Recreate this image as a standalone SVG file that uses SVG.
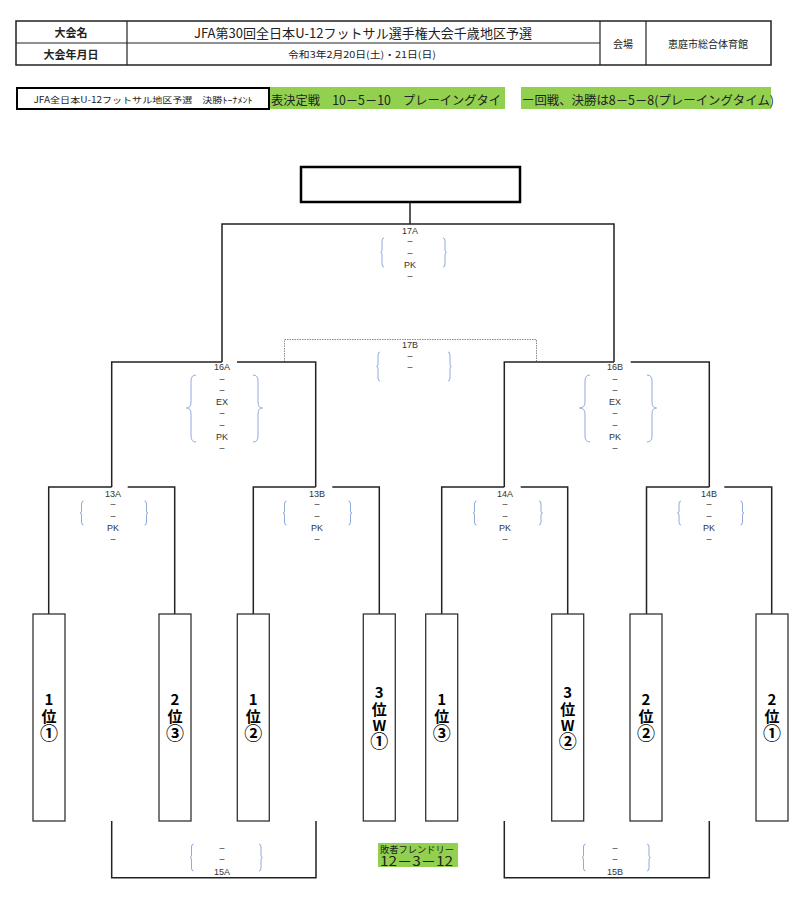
<svg xmlns="http://www.w3.org/2000/svg" width="800" height="918" viewBox="0 0 800 918">
<style>
text{font-family:"Liberation Sans","Noto Sans CJK JP",sans-serif;fill:#222;}
.jp{font-family:"Noto Sans CJK JP","Liberation Sans",sans-serif;}
.hd{font-size:11px;text-anchor:middle;dominant-baseline:central;}
.lb{font-size:9px;text-anchor:middle;fill:#333;}
.tm{font-size:15px;font-weight:bold;text-anchor:middle;fill:#000;}
.cc{font-size:18px;}
.ln{fill:none;stroke:#222;stroke-width:1.5;}
.bx{fill:#fff;stroke:#333;stroke-width:1.3;}
.br{fill:none;stroke:#8eaadb;stroke-width:1;}
.gr{fill:#92d050;}
.dot{fill:none;stroke:#888;stroke-width:1;stroke-dasharray:1.5,1;}
</style>
<defs>
<clipPath id="c2"><rect x="521" y="87" width="253" height="23"/></clipPath>
</defs>
<rect width="800" height="918" fill="#fff"/>

<g id="header">
<rect x="16" y="21" width="755" height="44" fill="none" stroke="#222" stroke-width="1.5"/>
<line x1="16" y1="43" x2="600" y2="43" stroke="#222" stroke-width="1.2"/>
<line x1="127" y1="21" x2="127" y2="65" stroke="#222" stroke-width="1.2"/>
<line x1="600" y1="21" x2="600" y2="65" stroke="#222" stroke-width="1.2"/>
<line x1="646" y1="21" x2="646" y2="65" stroke="#222" stroke-width="1.2"/>
<text class="hd jp" x="71" y="32" font-weight="bold">大会名</text>
<text class="hd jp" x="71" y="54" font-weight="bold">大会年月日</text>
<text class="hd jp" x="363" y="32" style="font-size:13px" textLength="338" lengthAdjust="spacingAndGlyphs">JFA第30回全日本U-12フットサル選手権大会千歳地区予選</text>
<text class="hd jp" x="362" y="54" style="font-size:9.5px" textLength="148" lengthAdjust="spacingAndGlyphs">令和3年2月20日(土)・21日(日)</text>
<text class="hd jp" x="623" y="43" style="font-size:10px">会場</text>
<text class="hd jp" x="708" y="43" style="font-size:10px">恵庭市総合体育館</text>
</g>

<g id="subtitle">
<rect x="17" y="88" width="252" height="21" fill="#fff" stroke="#000" stroke-width="2"/>
<text class="hd jp" x="143" y="99" style="font-size:8.5px" textLength="219" lengthAdjust="spacingAndGlyphs">JFA全日本U-12フットサル地区予選　決勝ﾄｰﾅﾒﾝﾄ</text>
</g>
<g id="note1">
<rect class="gr" x="270" y="87" width="235" height="22"/>
<text class="jp" x="271" y="99" style="font-size:12.5px;dominant-baseline:central" textLength="230" lengthAdjust="spacingAndGlyphs">表決定戦　10－5－10　プレーイングタイ</text>
</g>
<g id="note2">
<rect class="gr" x="521" y="87" width="250" height="22"/>
<text class="jp" x="522" y="99" clip-path="url(#c2)" style="font-size:12.5px;dominant-baseline:central" textLength="252" lengthAdjust="spacingAndGlyphs">ー回戦、決勝は8－5－8(プレーイングタイム)</text>
</g>

<g id="final">
<rect x="301" y="167" width="219" height="35" fill="#fff" stroke="#000" stroke-width="2.5"/>
</g>

<g id="connectors">
<path class="ln" d="M410,202V224M222,362V224H614V362"/>
<path class="dot" d="M284.5,362V339.5H536.5V362"/>
<path class="ln" d="M111.7,487V362H222M237,362H315.7V487"/>
<path class="ln" d="M504.3,487V362H614M630.7,362H709.3V487"/>
<path class="ln" d="M48.7,614V487H111.7M127.7,487H174.7V614"/>
<path class="ln" d="M253.3,614V487H315.7M332.3,487H379.3V614"/>
<path class="ln" d="M441.7,614V487H504.3M520.7,487H567.7V614"/>
<path class="ln" d="M646.5,614V487H709.3M724.3,487H771.7V614"/>
<path class="ln" d="M111.7,821V877.7H316V821"/>
<path class="ln" d="M504.3,821V877.7H709.3V821"/>
</g>

<g id="m17A">
<text class="lb" x="410" y="234">17A<tspan x="410" dy="10">–</tspan><tspan x="410" dy="12">–</tspan><tspan x="410" dy="12">PK</tspan><tspan x="410" dy="11">–</tspan></text>
<path class="br" d="M384,238Q382,238 382,241V250Q382,252.5 380.5,252.5Q382,252.5 382,255V264Q382,267 384,267"/>
<path class="br" d="M443,238Q445,238 445,241V250Q445,252.5 446.5,252.5Q445,252.5 445,255V264Q445,267 443,267"/>
</g>
<g id="m17B">
<text class="lb" x="410" y="348">17B<tspan x="410" dy="11">–</tspan><tspan x="410" dy="11">–</tspan></text>
<path class="br" d="M380,352Q378,352 378,355V364Q378,366.5 376.5,366.5Q378,366.5 378,369V378Q378,381 380,381"/>
<path class="br" d="M448,352Q450,352 450,355V364Q450,366.5 451.5,366.5Q450,366.5 450,369V378Q450,381 448,381"/>
</g>
<g id="m16A">
<text class="lb" x="222" y="370">16A<tspan x="222" dy="12">–</tspan><tspan x="222" dy="11">–</tspan><tspan x="222" dy="12">EX</tspan><tspan x="222" dy="11">–</tspan><tspan x="222" dy="12">–</tspan><tspan x="222" dy="12">PK</tspan><tspan x="222" dy="11">–</tspan></text>
<path class="br" d="M196,375Q191,375 191,381V402Q191,408 186.5,408Q191,408 191,414V436Q191,442 196,442"/>
<path class="br" d="M253,375Q258,375 258,381V402Q258,408 262.5,408Q258,408 258,414V436Q258,442 253,442"/>
</g>
<g id="m16B">
<text class="lb" x="615" y="370">16B<tspan x="615" dy="12">–</tspan><tspan x="615" dy="11">–</tspan><tspan x="615" dy="12">EX</tspan><tspan x="615" dy="11">–</tspan><tspan x="615" dy="12">–</tspan><tspan x="615" dy="12">PK</tspan><tspan x="615" dy="11">–</tspan></text>
<path class="br" d="M590,375Q585,375 585,381V402Q585,408 579.5,408Q585,408 585,414V436Q585,442 590,442"/>
<path class="br" d="M647,375Q652,375 652,381V402Q652,408 656.5,408Q652,408 652,414V436Q652,442 647,442"/>
</g>
<g id="m13A">
<text class="lb" x="113" y="497">13A<tspan x="113" dy="10">–</tspan><tspan x="113" dy="12">–</tspan><tspan x="113" dy="12">PK</tspan><tspan x="113" dy="11">–</tspan></text>
<path class="br" d="M83.5,501Q81.5,501 81.5,504V511Q81.5,513 80,513Q81.5,513 81.5,515V522Q81.5,525 83.5,525"/>
<path class="br" d="M144.5,501Q146.5,501 146.5,504V511Q146.5,513 148,513Q146.5,513 146.5,515V522Q146.5,525 144.5,525"/>
</g>
<g id="m13B">
<text class="lb" x="317" y="497">13B<tspan x="317" dy="10">–</tspan><tspan x="317" dy="12">–</tspan><tspan x="317" dy="12">PK</tspan><tspan x="317" dy="11">–</tspan></text>
<path class="br" d="M286.5,501Q284.5,501 284.5,504V511Q284.5,513 283,513Q284.5,513 284.5,515V522Q284.5,525 286.5,525"/>
<path class="br" d="M348.5,501Q350.5,501 350.5,504V511Q350.5,513 352,513Q350.5,513 350.5,515V522Q350.5,525 348.5,525"/>
</g>
<g id="m14A">
<text class="lb" x="505" y="497">14A<tspan x="505" dy="10">–</tspan><tspan x="505" dy="12">–</tspan><tspan x="505" dy="12">PK</tspan><tspan x="505" dy="11">–</tspan></text>
<path class="br" d="M476.5,501Q474.5,501 474.5,504V511Q474.5,513 473,513Q474.5,513 474.5,515V522Q474.5,525 476.5,525"/>
<path class="br" d="M539,501Q541,501 541,504V511Q541,513 542.5,513Q541,513 541,515V522Q541,525 539,525"/>
</g>
<g id="m14B">
<text class="lb" x="709" y="497">14B<tspan x="709" dy="10">–</tspan><tspan x="709" dy="12">–</tspan><tspan x="709" dy="12">PK</tspan><tspan x="709" dy="11">–</tspan></text>
<path class="br" d="M681,501Q679,501 679,504V511Q679,513 677.5,513Q679,513 679,515V522Q679,525 681,525"/>
<path class="br" d="M740.5,501Q742.5,501 742.5,504V511Q742.5,513 744,513Q742.5,513 742.5,515V522Q742.5,525 740.5,525"/>
</g>
<g id="m15A">
<text class="lb" x="222" y="851">–<tspan x="222" dy="11">–</tspan><tspan x="222" dy="13">15A</tspan></text>
<path class="br" d="M193.5,844Q191.5,844 191.5,847V855Q191.5,857.5 190,857.5Q191.5,857.5 191.5,860V868Q191.5,871 193.5,871"/>
<path class="br" d="M259,844Q261,844 261,847V855Q261,857.5 262.5,857.5Q261,857.5 261,860V868Q261,871 259,871"/>
</g>
<g id="m15B">
<text class="lb" x="615" y="851">–<tspan x="615" dy="11">–</tspan><tspan x="615" dy="13">15B</tspan></text>
<path class="br" d="M585.5,844Q583.5,844 583.5,847V855Q583.5,857.5 582,857.5Q583.5,857.5 583.5,860V868Q583.5,871 585.5,871"/>
<path class="br" d="M647,844Q649,844 649,847V855Q649,857.5 650.5,857.5Q649,857.5 649,860V868Q649,871 647,871"/>
</g>

<g id="friendly">
<rect class="gr" x="378" y="843" width="80" height="24"/>
<text class="jp" x="380" y="852.5" style="font-size:9.5px" textLength="74" lengthAdjust="spacingAndGlyphs">敗者フレンドリー</text>
<text class="jp" x="380" y="866" style="font-size:12.5px" textLength="73" lengthAdjust="spacingAndGlyphs">12－3－12</text>
</g>

<g id="t1"><rect class="bx" x="33" y="614" width="32" height="207"/>
<text class="tm jp" x="49" y="705">1<tspan x="49" dy="17">位</tspan><tspan class="cc" x="49" dy="17.5">①</tspan></text></g>
<g id="t2"><rect class="bx" x="159" y="614" width="32" height="207"/>
<text class="tm jp" x="175" y="705">2<tspan x="175" dy="17">位</tspan><tspan class="cc" x="175" dy="17.5">③</tspan></text></g>
<g id="t3"><rect class="bx" x="237.3" y="614" width="32" height="207"/>
<text class="tm jp" x="253.3" y="705">1<tspan x="253.3" dy="17">位</tspan><tspan class="cc" x="253.3" dy="17.5">②</tspan></text></g>
<g id="t4"><rect class="bx" x="363.3" y="614" width="32" height="207"/>
<text class="tm jp" x="379.3" y="698">3<tspan x="379.3" dy="16.5">位</tspan><tspan x="379.3" dy="16.5">W</tspan><tspan class="cc" x="379.3" dy="17">①</tspan></text></g>
<g id="t5"><rect class="bx" x="425.7" y="614" width="32" height="207"/>
<text class="tm jp" x="441.7" y="705">1<tspan x="441.7" dy="17">位</tspan><tspan class="cc" x="441.7" dy="17.5">③</tspan></text></g>
<g id="t6"><rect class="bx" x="551.7" y="614" width="32" height="207"/>
<text class="tm jp" x="567.7" y="698">3<tspan x="567.7" dy="16.5">位</tspan><tspan x="567.7" dy="16.5">W</tspan><tspan class="cc" x="567.7" dy="17">②</tspan></text></g>
<g id="t7"><rect class="bx" x="630" y="614" width="32" height="207"/>
<text class="tm jp" x="646" y="705">2<tspan x="646" dy="17">位</tspan><tspan class="cc" x="646" dy="17.5">②</tspan></text></g>
<g id="t8"><rect class="bx" x="756" y="614" width="32" height="207"/>
<text class="tm jp" x="772" y="705">2<tspan x="772" dy="17">位</tspan><tspan class="cc" x="772" dy="17.5">①</tspan></text></g>
</svg>
